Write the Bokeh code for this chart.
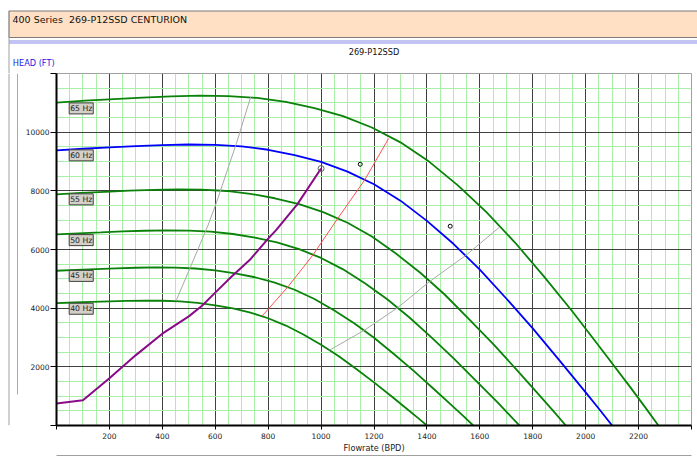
from bokeh.plotting import figure
from bokeh.models import Range1d, FixedTicker, Label, LinearAxis
from bokeh.layouts import column, row
from bokeh.core.properties import value
from bokeh.embed import file_html
from bokeh.resources import INLINE

# ---------------- data ----------------
x_ticks = [0, 200, 400, 600, 800, 1000, 1200, 1400, 1600, 1800, 2000, 2200, 2400]
y_ticks = [0, 2000, 4000, 6000, 8000, 10000, 12000]
x_minor = list(range(0, 2401, 50))
y_minor = list(range(0, 12001, 500))

hz_labels = ["65 Hz", "60 Hz", "55 Hz", "50 Hz", "45 Hz", "40 Hz"]
hz_label_y = [10810, 9210, 7710, 6320, 5100, 3980]

q65 = [0, 108, 217, 325, 433, 542, 650, 758, 867, 975, 1083, 1192, 1300, 1408, 1517, 1625, 1733, 1842, 1950, 2058, 2167, 2221, 2275]
h65 = [11008, 11073, 11126, 11179, 11220, 11243, 11231, 11167, 11032, 10821, 10545, 10158, 9653, 8996, 8186, 7271, 6238, 5082, 3885, 2617, 1326, 669, 0]
q60 = [0, 100, 200, 300, 400, 500, 600, 700, 800, 900, 1000, 1100, 1200, 1300, 1400, 1500, 1600, 1700, 1800, 1900, 2000, 2050, 2100]
h60 = [9380, 9435, 9480, 9525, 9560, 9580, 9570, 9515, 9400, 9220, 8985, 8655, 8225, 7665, 6975, 6195, 5315, 4330, 3310, 2230, 1130, 570, 0]
q55 = [0, 92, 183, 275, 367, 458, 550, 642, 733, 825, 917, 1008, 1100, 1192, 1283, 1375, 1467, 1558, 1650, 1742, 1833, 1879, 1925]
h55 = [7882, 7928, 7966, 8004, 8033, 8050, 8041, 7995, 7899, 7747, 7550, 7273, 6911, 6441, 5861, 5206, 4466, 3638, 2781, 1874, 950, 479, 0]
q50 = [0, 83, 167, 250, 333, 417, 500, 583, 667, 750, 833, 917, 1000, 1083, 1167, 1250, 1333, 1417, 1500, 1583, 1667, 1708, 1750]
h50 = [6514, 6552, 6583, 6615, 6639, 6653, 6646, 6608, 6528, 6403, 6240, 6010, 5712, 5323, 4844, 4302, 3691, 3007, 2299, 1549, 785, 396, 0]
q45 = [0, 75, 150, 225, 300, 375, 450, 525, 600, 675, 750, 825, 900, 975, 1050, 1125, 1200, 1275, 1350, 1425, 1500, 1538, 1575]
h45 = [5276, 5307, 5333, 5358, 5378, 5389, 5383, 5352, 5288, 5186, 5054, 4868, 4627, 4312, 3923, 3485, 2990, 2436, 1862, 1254, 636, 321, 0]
q40 = [0, 67, 133, 200, 267, 333, 400, 467, 533, 600, 667, 733, 800, 867, 933, 1000, 1067, 1133, 1200, 1267, 1333, 1367, 1400]
h40 = [4169, 4193, 4213, 4233, 4249, 4258, 4253, 4229, 4178, 4098, 3993, 3847, 3656, 3407, 3100, 2753, 2362, 1924, 1471, 991, 502, 253, 0]

q_purple = [0, 100, 200, 300, 400, 500, 550, 600, 660, 730, 800, 830, 910, 1000]
h_purple = [750, 860, 1610, 2400, 3130, 3720, 4080, 4530, 5060, 5640, 6370, 6660, 7540, 8760]

q_red = [777, 875, 969, 1063, 1164, 1255]
h_red = [3730, 4730, 5810, 7060, 8360, 9780]

q_gray1 = [452, 510, 573, 605, 680, 734]
h_gray1 = [4250, 5480, 6830, 7610, 9620, 11200]
q_gray2 = [1032, 1164, 1290, 1409, 1547, 1673]
h_gray2 = [2570, 3250, 4020, 4900, 5800, 6750]

q_pts = [1148, 1488]
h_pts = [8906, 6794]

header_text = "400 Series\u00a0 269-P12SSD CENTURION"
chart_title = "269-P12SSD"
y_title = "HEAD (FT)"
x_title = "Flowrate (BPD)"

FONT = "DejaVu Sans"
W, H = 697, 459
HEAD_H = 73          # height of header strip (page px)
STRIP_W = 18         # width of left decoration strip
MAIN_H = H - HEAD_H

# ---------------- header strip (decoration, pixel coordinates) ----------------
hdr = figure(width=W, height=HEAD_H, x_range=Range1d(0, W), y_range=Range1d(HEAD_H, 0),
             output_backend="svg", toolbar_location=None, x_axis_type=None, y_axis_type=None,
             min_border=0, outline_line_color=None, background_fill_color="white",
             border_fill_color="white")
hdr.grid.visible = False
hdr.quad(left=[8.5], right=[W + 5], top=[10.5], bottom=[37], fill_color="#ffe0c4",
         line_color="#7a7a7a", line_width=1.2)
hdr.quad(left=[8.5], right=[W + 5], top=[39.5], bottom=[43.5], fill_color="#c4c4f4",
         line_color=None)
hdr.segment(x0=[8.5], y0=[37], x1=[8.5], y1=[HEAD_H], line_color="#a0a0a0", line_width=1)
hdr.text(x=[12], y=[19], text=[header_text], text_font=value(FONT),
         text_font_size=value("9.5px"), text_color="#111111", text_baseline="middle",
         text_align="left")
hdr.text(x=[373.5], y=[51], text=[chart_title], text_font=value(FONT),
         text_font_size=value("8.2px"), text_color="#111111", text_baseline="middle",
         text_align="center")
hdr.text(x=[12.3], y=[62], text=[y_title], text_font=value(FONT),
         text_font_size=value("8.2px"), text_color="#1a1ae6", text_baseline="middle",
         text_align="left")

# ---------------- left decoration strip ----------------
strip = figure(width=STRIP_W, height=MAIN_H, x_range=Range1d(0, STRIP_W),
               y_range=Range1d(MAIN_H, 0), output_backend="svg", toolbar_location=None,
               x_axis_type=None, y_axis_type=None, min_border=0, outline_line_color=None,
               background_fill_color="white", border_fill_color="white")
strip.grid.visible = False
strip.segment(x0=[8.5], y0=[0], x1=[8.5], y1=[MAIN_H], line_color="#a0a0a0", line_width=1)
strip.segment(x0=[17.5], y0=[0], x1=[17.5], y1=[352], line_color="#555555", line_width=1)
strip.segment(x0=[17.5], y0=[0.5], x1=[STRIP_W], y1=[0.5], line_color="#808080", line_width=1)
strip.segment(x0=[17.5], y0=[352], x1=[STRIP_W], y1=[352], line_color="#404040", line_width=1)

# ---------------- main chart ----------------
p = figure(width=W - STRIP_W, height=MAIN_H, x_range=Range1d(0, 2400), y_range=Range1d(0, 12000),
           output_backend="svg", toolbar_location=None,
           min_border_left=56 - STRIP_W, min_border_right=6, min_border_top=0,
           min_border_bottom=MAIN_H - 352,
           background_fill_color="white", border_fill_color="white",
           outline_line_color="#a0a0a0")

xt = FixedTicker(ticks=x_ticks, minor_ticks=x_minor)
yt = FixedTicker(ticks=y_ticks, minor_ticks=y_minor)
p.xaxis.ticker = xt
p.yaxis.ticker = yt
p.xgrid.ticker = xt
p.ygrid.ticker = yt

for ax in (p.xaxis, p.yaxis):
    ax.axis_line_width = 2
    ax.axis_line_color = "black"
    ax.major_tick_in = 0
    ax.major_tick_line_color = "black"
    ax.minor_tick_line_color = None
    ax.major_label_text_font = FONT
    ax.major_label_text_font_size = "7.5px"
    ax.major_label_text_color = "#222222"

p.xaxis.major_tick_out = 4
p.xaxis.major_label_standoff = 3
p.xaxis.major_label_overrides = {0: "", 2400: ""}
p.xaxis.axis_label = x_title
p.xaxis.axis_label_text_font = FONT
p.xaxis.axis_label_text_font_size = "8.2px"
p.xaxis.axis_label_text_font_style = "normal"
p.xaxis.axis_label_text_color = "#222222"
p.xaxis.axis_label_standoff = 1

p.yaxis.major_tick_out = 6
p.yaxis.major_label_standoff = 1
p.yaxis.major_label_overrides = {0: "", 12000: ""}

# an empty second bottom axis: only its line, closing the axis box below
box_axis = LinearAxis(ticker=FixedTicker(ticks=[]), axis_line_color="#a0a0a0",
                      axis_line_width=1, major_tick_line_color=None,
                      minor_tick_line_color=None, major_label_text_font_size="0px")
p.add_layout(box_axis, "below")

for g in (p.xgrid, p.ygrid):
    g.grid_line_color = "#404040"
    g.grid_line_width = 1
    g.minor_grid_line_color = "#aaeeaa"
    g.minor_grid_line_width = 1

GREEN = "#0a820a"
for q, h in [(q65, h65), (q55, h55), (q50, h50), (q45, h45), (q40, h40)]:
    p.line(q, h, line_color=GREEN, line_width=1.8)
p.line(q60, h60, line_color="#0000ff", line_width=1.8)
p.line(q_gray1, h_gray1, line_color="#a8a8a8", line_width=1)
p.line(q_gray2, h_gray2, line_color="#a8a8a8", line_width=1)
p.line(q_red, h_red, line_color="#ff5050", line_width=1)
p.line(q_purple, h_purple, line_color="#8a0a8a", line_width=2)
p.scatter([q_purple[-1]], [h_purple[-1]], size=6, marker="circle",
          line_color="#606060", fill_alpha=0)
p.scatter(q_pts, h_pts, size=4, marker="circle", line_color="black", fill_alpha=0)

for t, yv in zip(hz_labels, hz_label_y):
    p.add_layout(Label(x=48, y=yv, text=t, text_font=FONT, text_font_size="7.7px",
                       text_color="#222222", text_baseline="middle", text_align="left",
                       background_fill_color="#d4d0c8", border_line_color="#404040",
                       padding=1))

layout = column(hdr, row(strip, p, spacing=0), spacing=0)
open("out.html", "w").write(file_html(layout, INLINE))
